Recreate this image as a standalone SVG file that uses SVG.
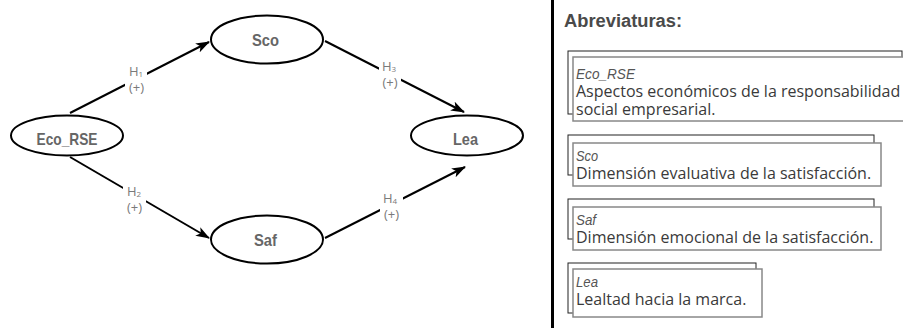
<svg xmlns="http://www.w3.org/2000/svg" width="903" height="328" viewBox="0 0 903 328">
<defs>
<marker id="arr" viewBox="0 0 14 10" refX="13" refY="5" markerWidth="14" markerHeight="10" markerUnits="userSpaceOnUse" orient="auto">
<path d="M0,0 L14,5 L0,10 L3.5,5 z" fill="#000"/>
</marker>
<style>
.node ellipse{fill:#fff;stroke:#000;stroke-width:2}
.ntxt{font-family:"Liberation Sans",Arial,sans-serif;font-weight:bold;font-size:17px;fill:#666;text-anchor:middle}
.edge{fill:none;stroke:#000;stroke-width:2}
.lbl{font-family:"Open Sans","Noto Sans",sans-serif;font-size:13px;fill:#7a7a7a;text-anchor:middle}
.sub{font-size:8px}
.bg{fill:#fff}
.back{fill:#fff;stroke:#222;stroke-width:1}
.front{fill:#fff;stroke:#888;stroke-width:1.5}
.abbr{font-family:"Liberation Sans",Arial,sans-serif;font-style:italic;font-size:15px;fill:#555}
.desc{font-family:"Open Sans","Noto Sans",sans-serif;font-size:16px;fill:#3a3a3a}
.title{font-family:"Liberation Sans",Arial,sans-serif;font-weight:bold;font-size:18px;fill:#4a4a4a}
</style>
</defs>
<rect width="903" height="328" fill="#fff"/>
<g id="connectors">
<line class="edge" x1="70" y1="113" x2="209" y2="42" marker-end="url(#arr)"/>
<line class="edge" x1="70" y1="157" x2="209" y2="238" marker-end="url(#arr)"/>
<line class="edge" x1="325" y1="41" x2="464" y2="112" marker-end="url(#arr)"/>
<line class="edge" x1="325" y1="238" x2="465" y2="167" marker-end="url(#arr)"/>
<g id="lbl-h1"><rect class="bg" x="125" y="64" width="22" height="30"/><text class="lbl" x="136" y="76">H<tspan class="sub" dy="1">1</tspan></text><text class="lbl" x="136.5" y="92">(+)</text></g>
<g id="lbl-h2"><rect class="bg" x="123" y="184" width="23" height="31"/><text class="lbl" x="134" y="196">H<tspan class="sub" dy="1">2</tspan></text><text class="lbl" x="134.5" y="212">(+)</text></g>
<g id="lbl-h3"><rect class="bg" x="379" y="59" width="22" height="30"/><text class="lbl" x="389" y="71">H<tspan class="sub" dy="1">3</tspan></text><text class="lbl" x="390" y="87">(+)</text></g>
<g id="lbl-h4"><rect class="bg" x="380" y="191" width="23" height="31"/><text class="lbl" x="390" y="203">H<tspan class="sub" dy="1">4</tspan></text><text class="lbl" x="391.5" y="219">(+)</text></g>
</g>
<g id="node-eco" class="node"><ellipse cx="67" cy="135.5" rx="56" ry="20"/><text class="ntxt" x="67" y="145" textLength="61" lengthAdjust="spacingAndGlyphs">Eco_RSE</text></g>
<g id="node-sco" class="node"><ellipse cx="267" cy="39.5" rx="56" ry="24"/><text class="ntxt" x="265.5" y="46" textLength="27" lengthAdjust="spacingAndGlyphs">Sco</text></g>
<g id="node-saf" class="node"><ellipse cx="267" cy="239.5" rx="56" ry="24"/><text class="ntxt" x="265.5" y="246" textLength="23" lengthAdjust="spacingAndGlyphs">Saf</text></g>
<g id="node-lea" class="node"><ellipse cx="467" cy="135.5" rx="56" ry="20"/><text class="ntxt" x="465.5" y="145" textLength="25" lengthAdjust="spacingAndGlyphs">Lea</text></g>
<line x1="552.5" y1="0" x2="552.5" y2="328" stroke="#000" stroke-width="3"/>
<g id="legend">
<text class="title" x="564" y="27" textLength="118" lengthAdjust="spacingAndGlyphs">Abreviaturas:</text>
<g id="leg-eco"><rect class="back" x="568" y="51" width="334" height="63"/><rect class="front" x="573" y="57" width="340" height="64"/>
<text class="abbr" x="576" y="79" textLength="59" lengthAdjust="spacingAndGlyphs">Eco_RSE</text><text class="desc" x="576" y="97">Aspectos económicos de la responsabilidad</text><text class="desc" x="576" y="115">social empresarial.</text></g>
<g id="leg-sco"><rect class="back" x="568" y="135" width="306" height="40"/><rect class="front" x="573" y="143" width="308" height="43"/>
<text class="abbr" x="576" y="161" textLength="22" lengthAdjust="spacingAndGlyphs">Sco</text><text class="desc" x="576" y="179">Dimensión evaluativa de la satisfacción.</text></g>
<g id="leg-saf"><rect class="back" x="568" y="199" width="306" height="40"/><rect class="front" x="573" y="207" width="308" height="43"/>
<text class="abbr" x="576" y="225" textLength="20" lengthAdjust="spacingAndGlyphs">Saf</text><text class="desc" x="576" y="243">Dimensión emocional de la satisfacción.</text></g>
<g id="leg-lea"><rect class="back" x="568" y="263" width="188" height="50"/><rect class="front" x="573" y="269" width="189" height="48"/>
<text class="abbr" x="576" y="287" textLength="22" lengthAdjust="spacingAndGlyphs">Lea</text><text class="desc" x="576" y="305">Lealtad hacia la marca.</text></g>
</g>
</svg>
